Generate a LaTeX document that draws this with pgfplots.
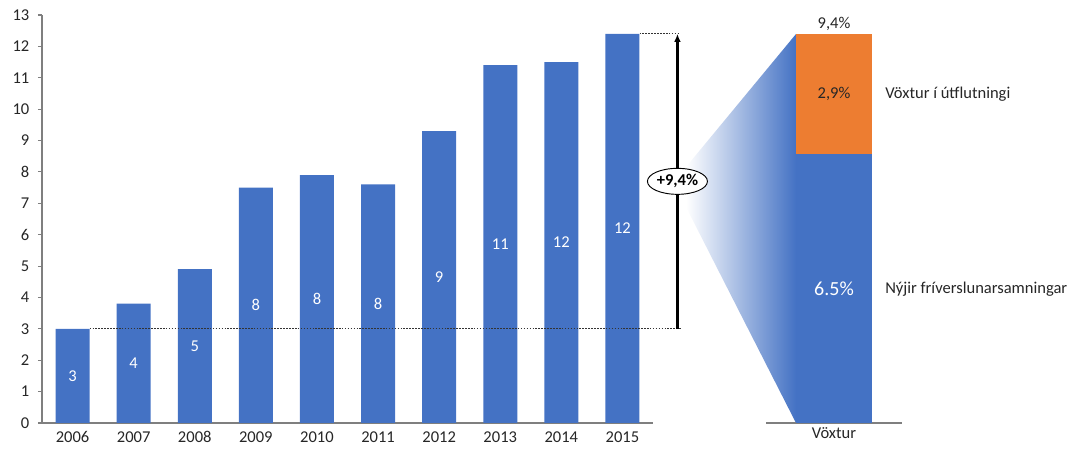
\documentclass[border=0pt]{standalone}
\usepackage{pgfplots}
\pgfplotsset{compat=1.18}
\usepackage{fontspec}
\setmainfont{Carlito}
\usetikzlibrary{shapes.geometric,arrows.meta}
\definecolor{cblue}{HTML}{4472C4}
\definecolor{corange}{HTML}{ED7D31}
\definecolor{axgray}{HTML}{7F7F7F}
\definecolor{txt}{HTML}{262626}
\begin{document}
\begin{tikzpicture}[font=\fontsize{12.4}{14}\selectfont]
\useasboundingbox (0,0) rectangle (804pt,337.5pt);
% gradient wedge
\shade[left color=white, right color=cblue, draw=none]
  (514.5pt,212.25pt) -- (597pt,312pt) -- (597pt,20.25pt) -- (514.5pt,182.25pt) -- cycle;

\begin{axis}[
  at={(31.5pt,20.25pt)}, anchor=south west,
  scale only axis, width=458.25pt, height=306pt,
  xmin=-0.5, xmax=9.5, ymin=0, ymax=13,
  axis x line*=bottom, axis y line*=left,
  axis line style={-, draw=axgray, line width=0.8pt},
  xtick={0,...,9},
  xticklabels={2006,2007,2008,2009,2010,2011,2012,2013,2014,2015},
  x tick style={draw=none},
  xticklabel style={text height=8pt, text depth=1pt},
  ytick={0,...,13},
  y tick style={draw=axgray, line width=0.8pt},
  tick align=outside, major tick length=3pt,
  ticklabel style={text=txt},
  yticklabel style={xshift=-3pt},
  /pgf/number format/assume math mode=true,
  clip=false,
  ybar, bar width=25.5pt,
  visualization depends on=y \as \rawy,
  nodes near coords,
  point meta=explicit symbolic,
  nodes near coords style={anchor=center, text=white, shift={(axis direction cs:0,-\rawy/2)}},
]
\addplot[fill=cblue, draw=none] table[meta=lab] {
x y lab
0 3.0 3
1 3.8 4
2 4.9 5
3 7.5 8
4 7.9 8
5 7.6 8
6 9.3 9
7 11.4 11
8 11.5 12
9 12.4 12
};
\draw[black!80, line width=0.8pt, dash pattern=on 1.2pt off 1pt] (axis cs:0.279,3) -- (axis cs:9.95,3);
\draw[black!80, line width=0.8pt, dash pattern=on 1.2pt off 1pt] (axis cs:9.279,12.4) -- (axis cs:9.95,12.4);
\draw[-{Latex[length=6pt,width=5pt]}, line width=1.6pt] (axis cs:9.9,3) -- (axis cs:9.9,12.4);
\node[ellipse, draw, fill=white, line width=0.7pt, inner sep=0pt, minimum width=45pt, minimum height=19.5pt, font=\fontsize{12.4}{14}\selectfont\bfseries] at (axis cs:9.9,7.7) {+9,4\%};
\end{axis}

\begin{axis}[
  at={(574.5pt,20.25pt)}, anchor=south west,
  scale only axis, width=102pt, height=306pt,
  xmin=-1, xmax=1, ymin=0, ymax=9.8548,
  axis x line*=bottom, hide y axis,
  axis line style={-, draw=axgray, line width=0.8pt},
  xtick={0}, xticklabels={Vöxtur},
  x tick style={draw=none},
  xticklabel style={text height=8pt, text depth=1pt},
  ticklabel style={text=txt},
  ybar stacked, bar width=57pt,
  clip=false,
]
\addplot[fill=cblue, draw=none] coordinates {(0,6.5)};
\addplot[fill=corange, draw=none] coordinates {(0,2.9)};
\coordinate (lblue) at (axis cs:0,3.25);
\coordinate (lorange) at (axis cs:0,7.95);
\coordinate (ltop) at (axis cs:0,9.4);
\coordinate (tor) at (axis cs:0.75,7.95);
\coordinate (tbl) at (axis cs:0.75,3.24);
\end{axis}
\node[text=white, font=\fontsize{15}{17}\selectfont] at (lblue) {6.5\%};
\node[text=txt] at (lorange) {2,9\%};
\node[text=txt, anchor=south, inner sep=2pt] at (ltop) {9,4\%};
\node[text=txt, anchor=west, inner sep=0pt] at (tor) {Vöxtur í útflutningi};
\node[text=txt, anchor=west, inner sep=0pt] at (tbl) {Nýjir fríverslunarsamningar};
\end{tikzpicture}
\end{document}
